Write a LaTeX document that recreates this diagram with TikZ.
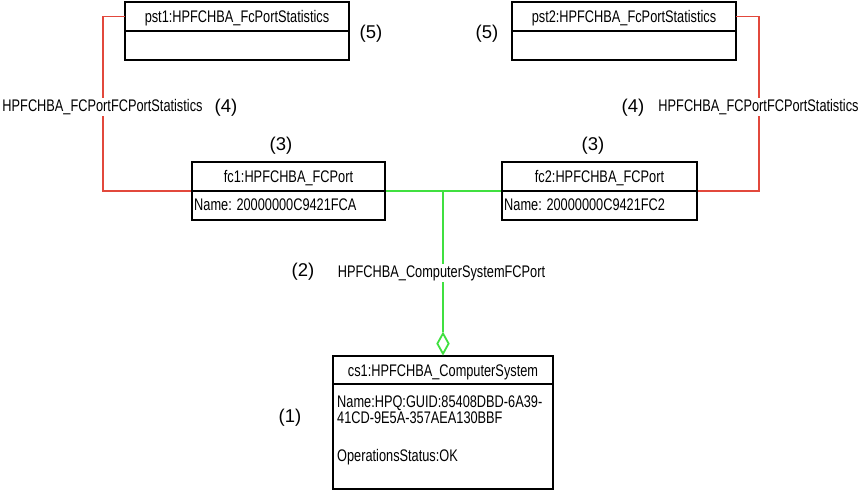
\documentclass[tikz,border=0pt]{standalone}
\usepackage{fontspec}
\setmainfont{Liberation Sans}
\newfontfamily\narrowf[FakeStretch=0.76]{Liberation Sans}
\usetikzlibrary{shapes.geometric}
\definecolor{relred}{RGB}{226,72,60}
\definecolor{relgreen}{RGB}{64,224,64}
\tikzset{
 box/.style={draw=black, line width=2pt, inner sep=0pt},
 hdr/.style={inner sep=0pt, text height=12pt, text depth=0pt, font=\narrowf\fontsize{16.8}{19}\selectfont},
 divider/.style={draw=black, line width=2pt},
 txt/.style={inner sep=0pt, anchor=base west, font=\narrowf\fontsize{16.8}{19}\selectfont},
 rel/.style={inner sep=1.5pt, fill=white, anchor=base, font=\narrowf\fontsize{16.8}{19}\selectfont},
 num/.style={inner sep=0pt, anchor=base, font=\fontsize{18.5}{20}\selectfont},
 redline/.style={draw=relred, line width=1.8pt},
 greenline/.style={draw=relgreen, line width=1.8pt},
 agg/.style={diamond, draw=relgreen, line width=1.8pt, fill=white, inner sep=0pt, minimum width=12pt, minimum height=21pt},
}
\begin{document}
\begin{tikzpicture}[x=1pt,y=-1pt]
\useasboundingbox (0,0) rectangle (865,491);
\fill[white] (0,0) rectangle (865,491);
% pst1
\node[box, minimum width=224pt, minimum height=58pt] (pst1) at (237,31) {};
\node[hdr, minimum width=224pt, minimum height=29pt] (pst1h) at (237,16.5) {pst1:HPFCHBA\_FcPortStatistics};
\draw[divider] (pst1h.south west) -- (pst1h.south east);
% pst2
\node[box, minimum width=224pt, minimum height=58pt] (pst2) at (624,31) {};
\node[hdr, minimum width=224pt, minimum height=29pt] (pst2h) at (624,16.5) {pst2:HPFCHBA\_FcPortStatistics};
\draw[divider] (pst2h.south west) -- (pst2h.south east);
% fc1
\node[box, minimum width=193pt, minimum height=58pt] (fc1) at (288.5,191) {};
\node[hdr, minimum width=193pt, minimum height=29pt] (fc1h) at (288.5,176.5) {fc1:HPFCHBA\_FCPort};
\draw[divider] (fc1h.south west) -- (fc1h.south east);
\node[txt] (fc1n) at (194,210) {Name: 20000000C9421FCA};
% fc2
\node[box, minimum width=195pt, minimum height=58pt] (fc2) at (599.5,191) {};
\node[hdr, minimum width=195pt, minimum height=29pt] (fc2h) at (599.5,176.5) {fc2:HPFCHBA\_FCPort};
\draw[divider] (fc2h.south west) -- (fc2h.south east);
\node[txt] (fc2n) at (504,210) {Name: 20000000C9421FC2};
% cs1
\node[box, minimum width=220pt, minimum height=133pt] (cs) at (443,422.5) {};
\node[hdr, minimum width=220pt, minimum height=28pt] (csh) at (443,370) {cs1:HPFCHBA\_ComputerSystem};
\draw[divider] (csh.south west) -- (csh.south east);
\node[txt] (csa) at (337,407) {Name:HPQ:GUID:85408DBD-6A39-};
\node[txt] (csb) at (337,423) {41CD-9E5A-357AEA130BBF};
\node[txt] (csc) at (337,461) {OperationsStatus:OK};
% connectors
\draw[redline] (pst1h.west) -- ++(-22,0) |- (fc1.west);
\draw[redline] (pst2h.east) -- ++(23,0) |- (fc2.east);
\node[agg, anchor=south] (dia) at (cs.north) {};
\coordinate (jn) at (dia.north |- fc1.east);
\draw[greenline] (fc1.east) -- (fc2.west);
\draw[greenline] (jn) -- (dia.north);
% association labels
\node[rel] (l4a) at (102.5,111.5) {HPFCHBA\_FCPortFCPortStatistics};
\node[rel] (l4b) at (758.5,111.5) {HPFCHBA\_FCPortFCPortStatistics};
\node[rel] (l2) at (441.5,277.5) {HPFCHBA\_ComputerSystemFCPort};
% numbers
\node[num] (n5a) at (371,38.5) {(5)};
\node[num] (n5b) at (487,38.5) {(5)};
\node[num] (n4a) at (226,112.5) {(4)};
\node[num] (n4b) at (633,112.5) {(4)};
\node[num] (n3a) at (281,150.5) {(3)};
\node[num] (n3b) at (593,150.5) {(3)};
\node[num] (n2) at (303,276.5) {(2)};
\node[num] (n1) at (290,422) {(1)};
\end{tikzpicture}
\end{document}
